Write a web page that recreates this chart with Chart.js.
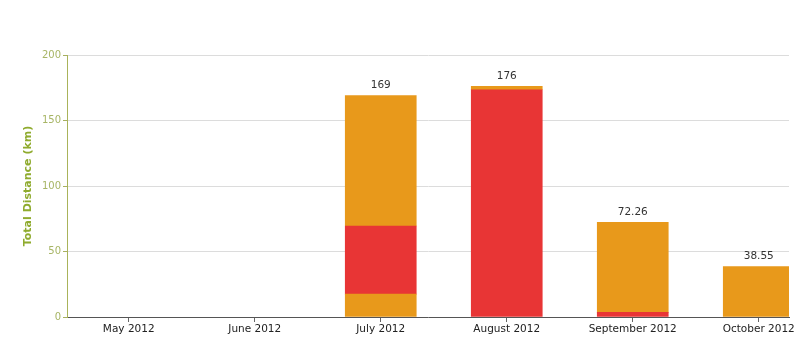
<!DOCTYPE html>
<html>
<head>
<meta charset="utf-8">
<script src="https://cdn.jsdelivr.net/npm/chart.js@4/dist/chart.umd.min.js"></script>
<style>
html,body{margin:0;padding:0;background:#fff;}
#wrap{width:800px;height:363px;position:relative;}
</style>
</head>
<body>
<div id="wrap"><canvas id="c" width="800" height="363"></canvas></div>
<script>
const categories = ["May 2012","June 2012","July 2012","August 2012","September 2012","October 2012"];
const seriesA = [0, 0, 17.5, 0, 0, 0];        // lower orange
const seriesB = [0, 0, 52, 173.5, 3.5, 0];    // red
const seriesC = [0, 0, 99.5, 2.5, 68.76, 38.55]; // upper orange
const yTicks = [0, 50, 100, 150, 200];

const ORANGE = "#E8991B";
const RED = "#E83535";

function pts(arr){ return arr.map((v,i)=>({x:i, y: v === 0 ? null : v})); }

const totalLabels = {
  id: 'totalLabels',
  afterDatasetsDraw(chart){
    const ctx = chart.ctx;
    const xs = chart.scales.x, ys = chart.scales.y;
    ctx.save();
    ctx.font = '10.5px "DejaVu Sans"';
    ctx.fillStyle = '#333';
    ctx.textAlign = 'center';
    ctx.textBaseline = 'middle';
    categories.forEach((c,i)=>{
      const t = seriesA[i]+seriesB[i]+seriesC[i];
      if (t <= 0) return;
      const s = String(Math.round(t*100)/100);
      ctx.fillText(s, xs.getPixelForValue(i), ys.getPixelForValue(t) - 10);
    });
    ctx.restore();
  }
};

new Chart(document.getElementById('c'), {
  type: 'bar',
  data: {
    datasets: [
      {label:'A', data: pts(seriesA), backgroundColor: ORANGE, borderWidth:0},
      {label:'B', data: pts(seriesB), backgroundColor: RED, borderWidth:0},
      {label:'C', data: pts(seriesC), backgroundColor: ORANGE, borderWidth:0}
    ]
  },
  options: {
    responsive: false,
    animation: false,
    barThickness: 71,
    skipNull: true,
    layout: {padding: {top: 55, right: 11, bottom: 0, left: 0}},
    plugins: {legend:{display:false}, tooltip:{enabled:false}},
    scales: {
      x: {
        type: 'linear',
        stacked: true,
        min: -0.49, max: 5.24,
        offset: false,
        afterFit(s){ s.height = 46; },
        afterBuildTicks(s){ s.ticks = categories.map((c,i)=>({value:i})); },
        ticks: {
          includeBounds: false,
          autoSkip: false,
          maxRotation: 0,
          padding: 1,
          color: '#222',
          font: {family: '"DejaVu Sans"', size: 10.5},
          callback: (v)=> categories[v] !== undefined ? categories[v] : ''
        },
        grid: {offset: false, drawOnChartArea: false, drawTicks: true, tickLength: 5, color: '#666'},
        border: {color: '#555', width: 1}
      },
      y: {
        stacked: true,
        min: 0, max: 200,
        afterFit(s){ s.width = 67; },
        afterBuildTicks(s){ s.ticks = yTicks.map(v=>({value:v})); },
        ticks: {
          color: '#a7b565',
          padding: 2,
          font: {family: '"DejaVu Sans"', size: 10}
        },
        grid: {color: '#dcdcdc', tickColor: '#a7b060', tickLength: 4, drawTicks: true},
        border: {color: '#a9b35a', width: 1},
        title: {
          display: true,
          text: 'Total Distance (km)',
          color: '#8fab2e',
          font: {family: '"DejaVu Sans"', size: 11, weight: 'bold'},
          padding: {top: 22, bottom: 4}
        }
      }
    }
  },
  plugins: [totalLabels]
});
</script>
</body>
</html>
